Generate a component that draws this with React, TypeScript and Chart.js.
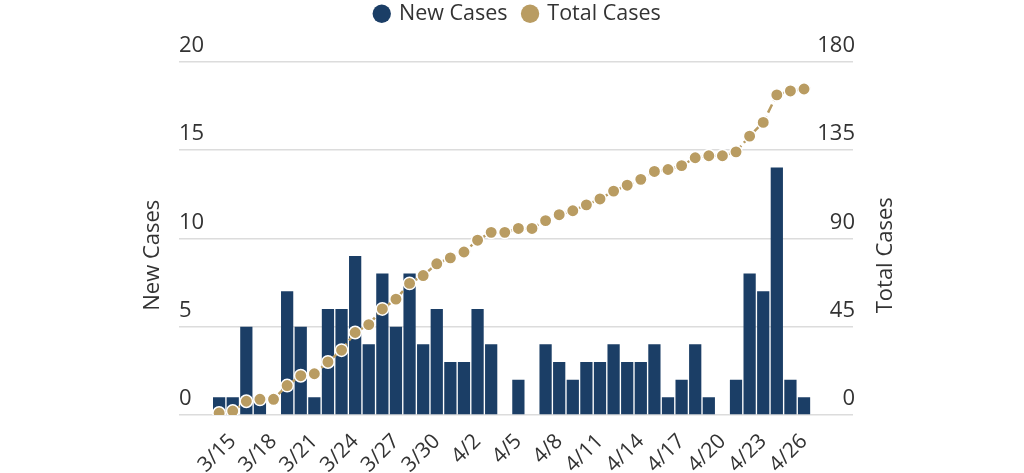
import React, { useEffect, useRef } from 'react';
import { Chart, registerables } from 'chart.js';

Chart.register(...registerables);

const dates = [
  '3/14', '3/15', '3/16', '3/17', '3/18', '3/19', '3/20', '3/21', '3/22', '3/23', '3/24',
  '3/25', '3/26', '3/27', '3/28', '3/29', '3/30', '3/31', '4/1', '4/2', '4/3', '4/4',
  '4/5', '4/6', '4/7', '4/8', '4/9', '4/10', '4/11', '4/12', '4/13', '4/14', '4/15',
  '4/16', '4/17', '4/18', '4/19', '4/20', '4/21', '4/22', '4/23', '4/24', '4/25', '4/26',
];

const newCases = [
  1, 1, 5, 1, 0, 7, 5, 1, 6, 6, 9,
  4, 8, 5, 8, 4, 6, 3, 3, 6, 4, 0,
  2, 0, 4, 3, 2, 3, 3, 4, 3, 3, 4,
  1, 2, 4, 1, 0, 2, 8, 7, 14, 2, 1,
];

const totalCases = [
  1, 2, 7, 8, 8, 15, 20, 21, 27, 33, 42,
  46, 54, 59, 67, 71, 77, 80, 83, 89, 93, 93,
  95, 95, 99, 102, 104, 107, 110, 114, 117, 120, 124,
  125, 127, 131, 132, 132, 134, 142, 149, 163, 165, 166,
];

const labelIndexes = [1, 4, 7, 10, 13, 16, 19, 22, 25, 28, 31, 34, 37, 40, 43];

const leftAxis = { min: 0, max: 20, step: 5, title: 'New Cases' };
const rightAxis = { min: 0, max: 180, step: 45, title: 'Total Cases' };
const seriesNames = ['New Cases', 'Total Cases'];

const NAVY = '#1b3e66';
const GOLD = '#b99c62';
const TEXT = '#333333';
const GRID = '#dcdcdc';
const FONT = "'Open Sans', sans-serif";

const legendSpacer = {
  id: 'legendSpacer',
  beforeInit(chart: any) {
    const legend = chart.legend;
    if (!legend) return;
    const fit = legend.fit;
    legend.fit = function () {
      fit.call(legend);
      legend.height += 27;
    };
  },
};

const axisTitles = {
  id: 'axisTitles',
  afterDraw(chart: any) {
    const { ctx, chartArea } = chart;
    const y = (chartArea.top + chartArea.bottom) / 2 + 17;
    const draw = (text: string, x: number) => {
      ctx.save();
      ctx.font = `22px ${FONT}`;
      ctx.fillStyle = TEXT;
      ctx.textAlign = 'center';
      ctx.textBaseline = 'middle';
      ctx.translate(x, y);
      ctx.rotate(-Math.PI / 2);
      ctx.fillText(text, 0, 0);
      ctx.restore();
    };
    draw(leftAxis.title, chartArea.left - 26);
    draw(rightAxis.title, chartArea.right + 33);
  },
};

export default function App() {
  const ref = useRef<HTMLCanvasElement>(null);

  useEffect(() => {
    document.body.style.margin = '0';
    const canvas = ref.current;
    if (!canvas) return;
    const chart = new Chart(canvas, {
      type: 'bar',
      data: {
        datasets: [
          {
            type: 'line',
            label: seriesNames[1],
            data: totalCases.map((v, i) => ({ x: i, y: v })),
            yAxisID: 'y1',
            borderColor: GOLD,
            backgroundColor: GOLD,
            borderWidth: 2.5,
            borderDash: [9, 4],
            pointRadius: 6.2,
            pointHoverRadius: 6.2,
            pointBackgroundColor: GOLD,
            pointBorderColor: '#ffffff',
            pointBorderWidth: 1.5,
            tension: 0,
          } as any,
          {
            type: 'bar',
            label: seriesNames[0],
            data: newCases.map((v, i) => ({ x: i, y: v })),
            yAxisID: 'y',
            backgroundColor: NAVY,
            borderWidth: 0,
            categoryPercentage: 1,
            barPercentage: 0.9,
          } as any,
        ],
      },
      options: {
        animation: false,
        responsive: false,
        maintainAspectRatio: false,
        layout: { padding: { left: 179, right: 167, top: -13, bottom: 0 }, autoPadding: false },
        plugins: {
          tooltip: { enabled: false },
          legend: {
            position: 'top',
            align: 'center',
            labels: {
              usePointStyle: true,
              pointStyle: 'circle',
              boxWidth: 13,
              boxHeight: 13,
              padding: 16,
              color: TEXT,
              font: { family: FONT, size: 21.5 },
              generateLabels: () => [
                { text: seriesNames[0], fillStyle: NAVY, strokeStyle: NAVY, lineWidth: 0, pointStyle: 'circle', hidden: false, datasetIndex: 1, fontColor: TEXT },
                { text: seriesNames[1], fillStyle: GOLD, strokeStyle: GOLD, lineWidth: 0, pointStyle: 'circle', hidden: false, datasetIndex: 0, fontColor: TEXT },
              ],
            },
          },
        },
        scales: {
          x: {
            type: 'linear',
            offset: false,
            bounds: 'data',
            min: -2.95,
            max: 46.6,
            grid: { display: false, drawTicks: false, offset: false },
            border: { display: false },
            afterBuildTicks: (scale: any) => {
              scale.ticks = labelIndexes.map((v) => ({ value: v }));
            },
            afterFit: (scale: any) => {
              scale.height = 58;
            },
            ticks: {
              autoSkip: false,
              maxRotation: 45,
              minRotation: 45,
              padding: 14,
              color: TEXT,
              font: { family: FONT, size: 21 },
              callback: (value: any) => dates[Number(value)] ?? '',
            },
          },
          y: {
            position: 'left',
            min: leftAxis.min,
            max: leftAxis.max,
            grid: { color: GRID, lineWidth: 1.5, drawTicks: false },
            border: { display: false },
            ticks: {
              stepSize: leftAxis.step,
              mirror: true,
              padding: 0,
              labelOffset: -16,
              color: TEXT,
              font: { family: FONT, size: 22 },
            },
          },
          y1: {
            position: 'right',
            min: rightAxis.min,
            max: rightAxis.max,
            grid: { display: false, drawTicks: false },
            border: { display: false },
            ticks: {
              stepSize: rightAxis.step,
              mirror: true,
              padding: 2,
              labelOffset: -16,
              color: TEXT,
              font: { family: FONT, size: 22 },
            },
          },
        },
      },
      plugins: [legendSpacer, axisTitles],
    });
    return () => chart.destroy();
  }, []);

  return (
    <div style={{ width: 1024, height: 473 }}>
      <canvas ref={ref} width={1024} height={473} style={{ width: 1024, height: 473, display: 'block' }} />
    </div>
  );
}
